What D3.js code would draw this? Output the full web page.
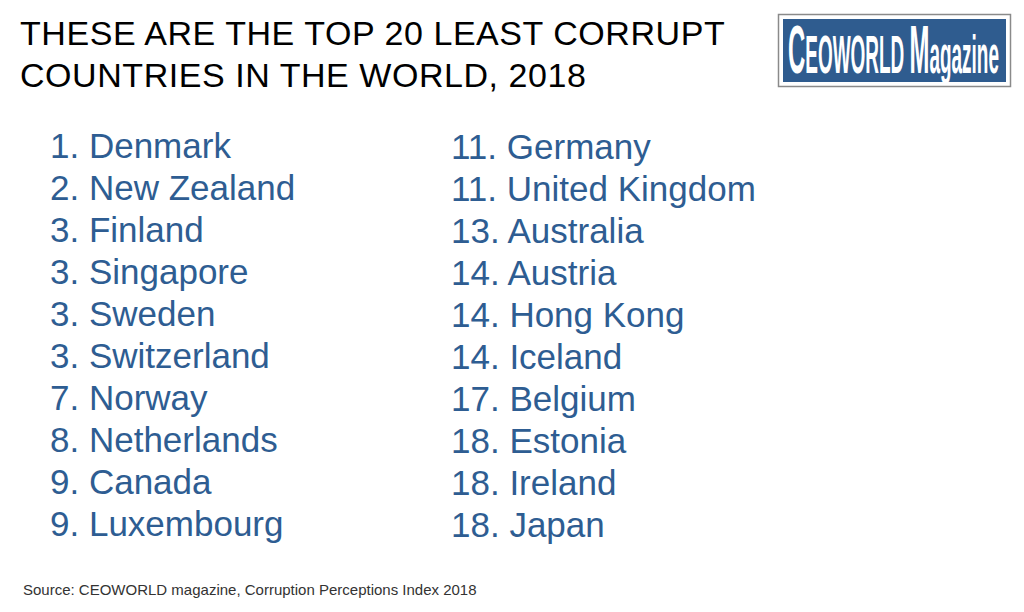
<!DOCTYPE html>
<html>
<head>
<meta charset="utf-8">
<script src="https://cdn.jsdelivr.net/npm/d3@7"></script>
<style>
  html, body { margin: 0; padding: 0; background: #fff; }
  svg { display: block; }
</style>
</head>
<body>
<svg id="chart" width="1024" height="612"></svg>
<script>
const titleLines = ["THESE ARE THE TOP 20 LEAST CORRUPT", "COUNTRIES IN THE WORLD, 2018"];
const ranksLeft = ["1", "2", "3", "3", "3", "3", "7", "8", "9", "9"];
const countriesLeft = ["Denmark", "New Zealand", "Finland", "Singapore", "Sweden", "Switzerland", "Norway", "Netherlands", "Canada", "Luxembourg"];
const ranksRight = ["11", "11", "13", "14", "14", "14", "17", "18", "18", "18"];
const countriesRight = ["Germany", "United Kingdom", "Australia", "Austria", "Hong Kong", "Iceland", "Belgium", "Estonia", "Ireland", "Japan"];
const sourceText = "Source: CEOWORLD magazine, Corruption Perceptions Index 2018";

const svg = d3.select("#chart");
const font = "'Liberation Sans', Arial, Helvetica, sans-serif";
const blue = "#2e5d92";

// Title
svg.append("g").selectAll("text").data(titleLines).join("text")
  .attr("x", 20)
  .attr("y", (d, i) => 44.5 + i * 42)
  .attr("font-family", font)
  .attr("font-size", 34)
  .attr("letter-spacing", 0.55)
  .attr("fill", "#000")
  .text(d => d);

// Row scale
const rowY = d3.scalePoint().domain(d3.range(10)).range([158, 536]);

function column(ranks, names, x, dy) {
  svg.append("g").selectAll("text").data(names).join("text")
    .attr("x", x)
    .attr("y", (d, i) => rowY(i) + dy)
    .attr("font-family", font)
    .attr("font-size", 35)
    .attr("fill", blue)
    .text((d, i) => ranks[i] + ". " + d);
}
column(ranksLeft, countriesLeft, 50, 0);
column(ranksRight, countriesRight, 451, 1);

// Source
svg.append("text")
  .attr("x", 23)
  .attr("y", 595)
  .attr("font-family", font)
  .attr("font-size", 15)
  .attr("fill", "#333")
  .text(sourceText);

// Logo
const logo = svg.append("g");
logo.append("rect").attr("x", 778.5).attr("y", 14.5).attr("width", 232).attr("height", 72)
  .attr("fill", "#fff").attr("stroke", "#8a8a8a").attr("stroke-width", 1.5);
logo.append("rect").attr("x", 783).attr("y", 19).attr("width", 223).attr("height", 63)
  .attr("fill", "#2f5c8f");
const lt = logo.append("text")
  .attr("font-family", "'Liberation Sans Narrow', 'Liberation Sans', Arial, sans-serif")
  .attr("font-weight", "bold")
  .attr("fill", "#fff");
lt.append("tspan").attr("font-size", 68).text("C");
lt.append("tspan").attr("font-size", 54).text("EOWORLD ");
lt.append("tspan").attr("font-size", 68).text("M");
lt.append("tspan").attr("font-size", 54).text("agazine");
const bb = lt.node().getBBox();
const sx = 211 / bb.width;
lt.attr("transform", `translate(${788 - bb.x * sx},73) scale(${sx},1)`);
</script>
</body>
</html>
